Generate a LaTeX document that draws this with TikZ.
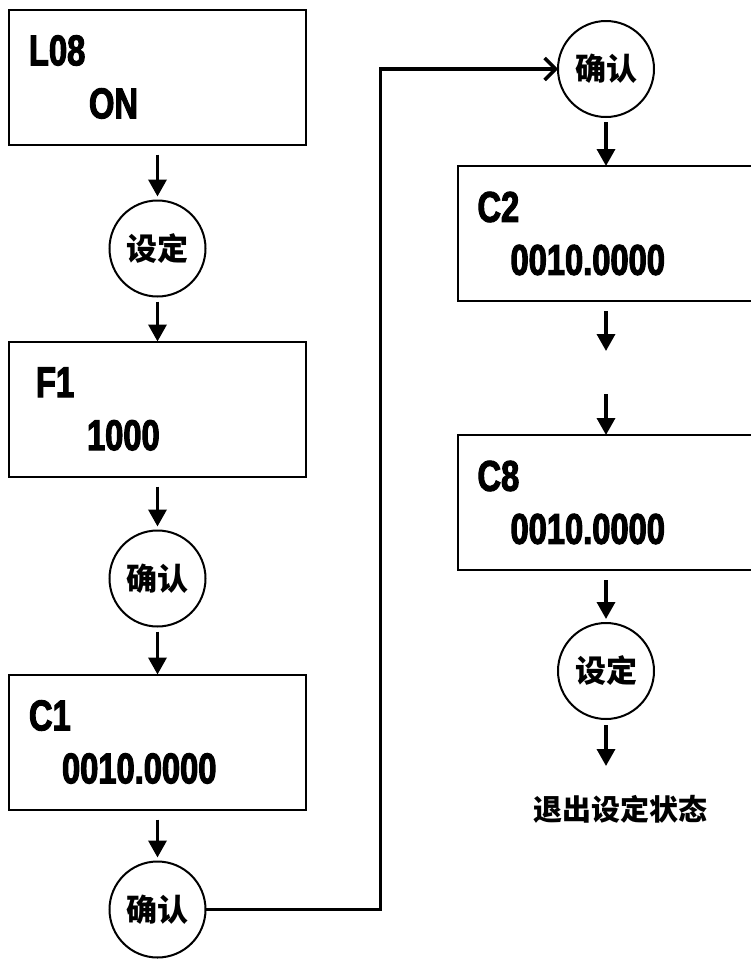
\documentclass[tikz,border=0pt]{standalone}
\usepackage{fontspec}
\newfontfamily\lcdfont{Liberation Sans}[UprightFont={* Bold},FakeStretch=0.76,FakeBold=2.5]
\newfontfamily\cjkfont{Noto Sans CJK SC}
\usetikzlibrary{positioning,arrows.meta}
\definecolor{PanelInk}{RGB}{0,0,0}
\tikzset{
  flow/.style={-{Triangle[length=17pt,width=18pt]},line width=3.5pt,draw=PanelInk},
  route/.style={-{Straight Barb[length=11pt,width=22pt]},line width=3.5pt,draw=PanelInk},
  lcd/.style={draw=PanelInk,line width=2pt,minimum width=297pt,minimum height=135pt,
    text width=257pt,inner xsep=20pt,inner ysep=0pt,outer sep=0pt,align=left,
    font=\lcdfont\fontsize{43}{53}\selectfont},
  keyc/.style={circle,draw=PanelInk,line width=2pt,minimum size=96pt,inner sep=0pt,
    outer sep=0pt,font=\cjkfont\bfseries\fontsize{31}{31}\selectfont},
  exitlbl/.style={inner sep=0pt,font=\cjkfont\bfseries\fontsize{29}{29}\selectfont}
}

\begin{document}
\begin{tikzpicture}[x=1pt,y=-1pt]
  \useasboundingbox (0,0) rectangle (751,959);
  % left column
  \node[lcd] (l08) at (157.5,77) {L08\\\hspace*{60pt}ON};
  \node[keyc,below=56pt of l08] (set1) {设定};
  \node[lcd,below=45pt of set1] (f1) {\hspace*{7pt}F1\\\hspace*{58pt}1000};
  \node[keyc,below=54pt of f1] (ok1) {确认};
  \node[lcd,below=48pt of ok1] (c1) {C1\\\hspace*{33pt}0010.0000};
  \node[keyc,below=52pt of c1] (ok2) {确认};
  % right column
  \node[keyc] (ok3) at (606,69) {确认};
  \node[lcd,below=49pt of ok3] (c2) {C2\\\hspace*{33pt}0010.0000};
  \coordinate[below=72pt of c2] (skip);
  \node[lcd,below=62pt of skip] (c8) {C8\\\hspace*{33pt}0010.0000};
  \node[keyc,below=53pt of c8] (set2) {设定};
  \node[exitlbl,below=76pt of set2,xshift=14pt] (exit) {退出设定状态};
  % connectors
  \draw[flow,shorten <=10pt,shorten >=4pt] (l08) -- (set1);
  \draw[flow,shorten <=5pt] (set1) -- (f1);
  \draw[flow,shorten <=10pt,shorten >=4pt] (f1) -- (ok1);
  \draw[flow,shorten <=5pt] (ok1) -- (c1);
  \draw[flow,shorten <=10pt,shorten >=4pt] (c1) -- (ok2);
  \draw[route] (ok2.east) -- ++(175,0) |- (ok3.west);
  \draw[flow,shorten <=5pt] (ok3) -- (c2);
  \draw[flow,shorten <=10pt,shorten >=22pt] (c2.south) -- (skip);
  \draw[flow,shorten <=21pt] (skip) -- (c8.north);
  \draw[flow,shorten <=10pt,shorten >=4pt] (c8) -- (set2);
  \draw[flow,shorten <=6pt,shorten >=29pt] (set2.south) -- (set2.south |- exit.north);
\end{tikzpicture}
\end{document}
